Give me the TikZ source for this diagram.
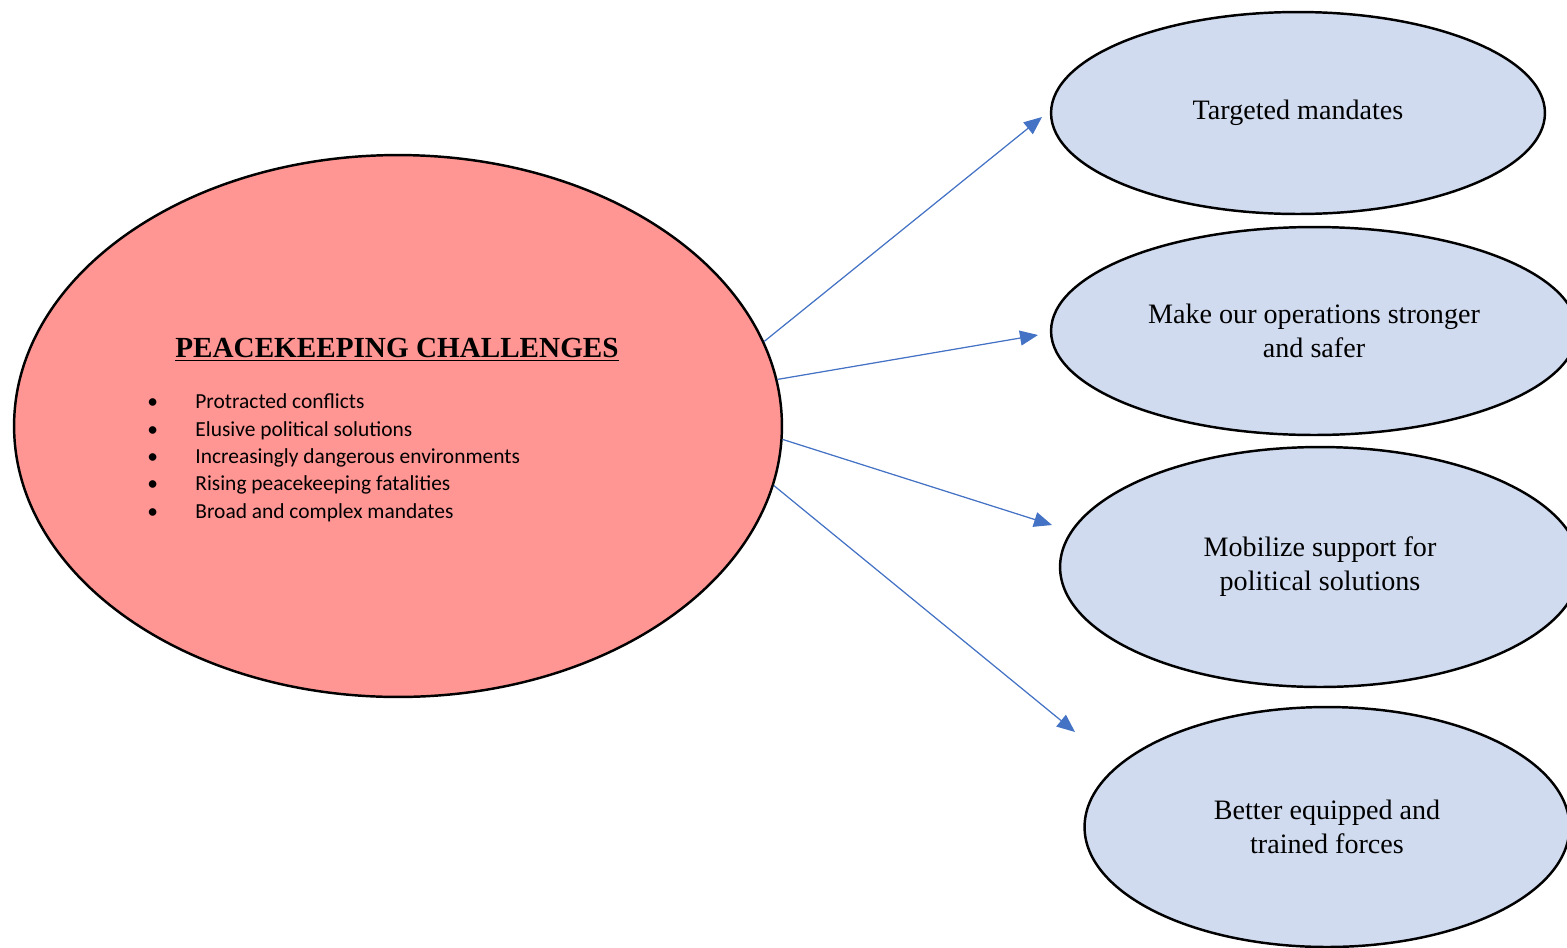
\documentclass[tikz,border=0pt]{standalone}
\usepackage{fontspec}
\setmainfont{Liberation Serif}
\newfontfamily\calibrifont{Carlito}
\usepackage{tikz}
\usetikzlibrary{arrows.meta,positioning,shapes.geometric}
\definecolor{challengered}{RGB}{255,150,148}
\definecolor{answerblue}{RGB}{208,219,239}
\definecolor{arrowblue}{RGB}{68,114,196}
\tikzset{
    >={Triangle[length=0.36cm,width=0.3cm]},
    every picture/.style={line width=0.5pt},
    answer/.style={ellipse,draw,line width=1.4pt,fill=answerblue,inner sep=0pt,
        align=center,font=\fontsize{16}{19.3}\selectfont},
    pointer/.style={->,draw=arrowblue,fill=arrowblue,line width=0.7pt}
}

\begin{document}
\begin{tikzpicture}[x=0.02cm,y=-0.02cm]
        \useasboundingbox (0,0) rectangle (1567,947);

        % Challenges
        \node[ellipse,draw,line width=1.4pt,fill=challengered,inner sep=0pt,
            minimum width=15.36cm,minimum height=10.84cm] (challenges) at (398,426) {};
        \node[font=\fontsize{16.6}{19.9}\selectfont\bfseries] (title) at (397,350)
            {\underline{PEACEKEEPING CHALLENGES}};
        \node[anchor=west,inner sep=0pt,font=\calibrifont\fontsize{12.2}{15.6}\selectfont] (list) at (147,458) {%
            \begin{tabular}{@{}p{0.96cm}@{}l@{}}
                \textbullet & Protracted conflicts\\
                \textbullet & Elusive political solutions\\
                \textbullet & Increasingly dangerous environments\\
                \textbullet & Rising peacekeeping fatalities\\
                \textbullet & Broad and complex mandates
            \end{tabular}};

        % Answers
        \node[answer,minimum width=9.88cm,minimum height=4.04cm] (mandates) at (1298,113) {Targeted mandates};
        \node[answer,minimum width=10.52cm,minimum height=4.16cm] (operations) at (1314,331) {Make our operations stronger\\ and safer};
        \node[answer,minimum width=10.4cm,minimum height=4.8cm] (support) at (1320,567) {Mobilize support for\\ political solutions};
        \node[answer,minimum width=9.7cm,minimum height=4.8cm] (forces) at (1327,827) {Better equipped and\\ trained forces};

        \coordinate (toMandates) at (1042,117);
        \coordinate (toOperations) at (1038,335);
        \coordinate (toSupport) at (1052,525);
        \coordinate (toForces) at (1075,732);

        \draw[pointer] (challenges.13) -- (toMandates);
        \draw[pointer] (challenges.7) -- (toOperations);
        \draw[pointer] (challenges.-2) -- (toSupport);
        \draw[pointer] (challenges.-9) -- (toForces);
    \end{tikzpicture}
\end{document}
